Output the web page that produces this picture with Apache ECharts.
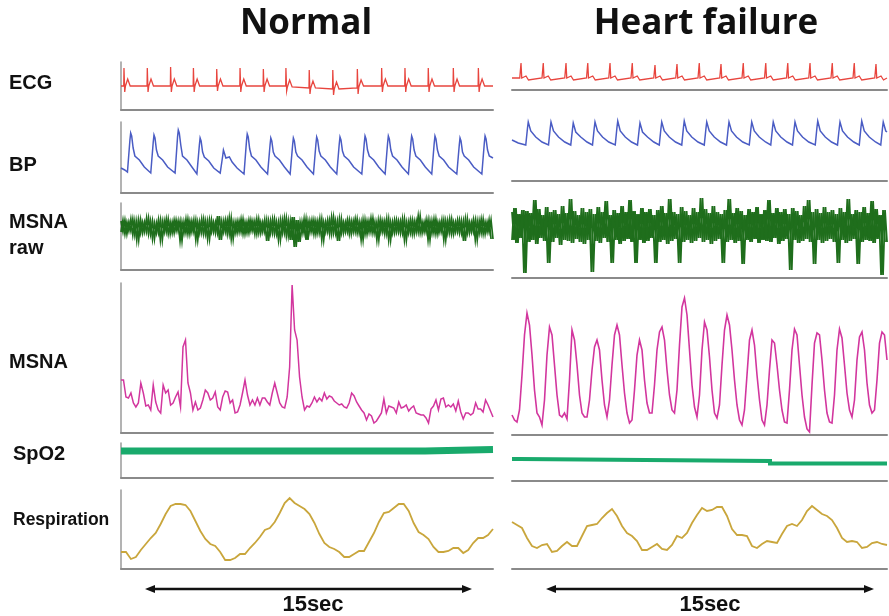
<!DOCTYPE html>
<html>
<head>
<meta charset="utf-8">
<script src="https://cdn.jsdelivr.net/npm/echarts@6/dist/echarts.min.js"></script>
<style>
html, body { margin: 0; padding: 0; background: #fff; }
#main { width: 889px; height: 616px; }
</style>
</head>
<body>
<div id="main"></div>
<script>

// ECG, normal: 16 beats
var ecgNormal = [
  [0,24],[0.11,24],[0.12,42],[0.15,18],[0.18,24],[0.27,31],[0.37,24],
  [1.05,24],[1.06,42],[1.09,18],[1.12,24],[1.21,31],[1.31,24],
  [1.99,24],[2.0,43],[2.03,18],[2.06,24],[2.15,31],[2.25,24],
  [2.91,24],[2.92,42],[2.95,18],[2.98,24],[3.07,31],[3.17,24],
  [3.85,24],[3.86,41],[3.89,19],[3.92,24],[4.01,31],[4.11,24],
  [4.79,24],[4.8,42],[4.83,18],[4.86,24],[4.95,31],[5.05,24],
  [5.73,24],[5.74,41],[5.77,18],[5.8,24],[5.89,31],[5.99,24],
  [6.64,24],[6.65,42],[6.68,19],[6.71,23],[6.8,30],[6.9,23],
  [7.58,22],[7.59,40],[7.62,16],[7.65,22],[7.74,29],[7.84,22],
  [8.53,21],[8.54,40],[8.57,15],[8.6,21],[8.69,28],[8.79,21],
  [9.52,22],[9.53,41],[9.56,16],[9.59,23],[9.68,30],[9.78,24],
  [10.5,24],[10.51,42],[10.54,18],[10.57,24],[10.66,31],[10.76,24],
  [11.44,24],[11.45,42],[11.48,18],[11.51,24],[11.6,31],[11.7,24],
  [12.38,24],[12.39,42],[12.42,18],[12.45,24],[12.54,31],[12.64,24],
  [13.39,24],[13.4,42],[13.43,18],[13.46,24],[13.55,31],[13.65,24],
  [14.4,24],[14.41,42],[14.44,18],[14.47,24],[14.56,31],[14.66,24],[15,24]
];

// ECG, heart failure: 17 beats
var ecgHF = [
  [0,12],[0.31,12],[0.35,13],[0.36,27],[0.39,12],[0.46,13],[0.56,14],[0.66,10],[0.74,12],
  [1.2,12],[1.24,13],[1.25,27],[1.28,12],[1.35,13],[1.45,14],[1.55,10],[1.63,12],
  [2.11,12],[2.15,13],[2.16,27],[2.19,12],[2.26,13],[2.36,14],[2.46,10],[2.54,12],
  [2.98,12],[3.02,13],[3.03,27],[3.06,12],[3.13,13],[3.23,14],[3.33,10],[3.41,12],
  [3.87,12],[3.91,13],[3.92,27],[3.95,12],[4.02,13],[4.12,14],[4.22,10],[4.3,12],
  [4.76,12],[4.8,13],[4.81,27],[4.84,12],[4.91,13],[5.01,14],[5.11,10],[5.19,12],
  [5.67,12],[5.71,13],[5.72,25],[5.75,12],[5.82,13],[5.92,14],[6.02,10],[6.1,12],
  [6.55,12],[6.59,13],[6.6,26],[6.63,12],[6.7,13],[6.8,14],[6.9,10],[6.98,12],
  [7.44,12],[7.48,13],[7.49,27],[7.52,12],[7.59,13],[7.69,14],[7.79,10],[7.87,12],
  [8.31,12],[8.35,13],[8.36,26],[8.39,12],[8.46,13],[8.56,14],[8.66,10],[8.74,12],
  [9.2,12],[9.24,13],[9.25,27],[9.28,12],[9.35,13],[9.45,14],[9.55,10],[9.63,12],
  [10.1,12],[10.14,13],[10.15,27],[10.18,12],[10.25,13],[10.35,14],[10.45,10],[10.53,12],
  [10.98,12],[11.02,13],[11.03,27],[11.06,12],[11.13,13],[11.23,14],[11.33,10],[11.41,12],
  [11.87,12],[11.91,13],[11.92,27],[11.95,12],[12.02,13],[12.12,14],[12.22,10],[12.3,12],
  [12.76,12],[12.8,13],[12.81,27],[12.84,12],[12.91,13],[13.01,14],[13.11,10],[13.19,12],
  [13.64,12],[13.68,13],[13.69,27],[13.72,12],[13.79,13],[13.89,14],[13.99,10],[14.07,12],
  [14.51,12],[14.55,13],[14.56,26],[14.59,12],[14.66,13],[14.76,14],[14.86,10],[14.94,12],[15,12]
];

// Blood pressure, normal
var bpNormal = [
  [0,25],[0.15,23],
  [0.26,21],[0.36,53],[0.39,60],[0.43,57],[0.49,45],[0.56,37],[0.63,39],[0.74,33],[0.94,26],
  [1.2,20],[1.3,51],[1.33,58],[1.37,55],[1.43,43],[1.5,37],[1.57,39],[1.68,33],[1.88,26],
  [2.18,20],[2.28,56],[2.31,63],[2.35,60],[2.41,48],[2.48,37],[2.55,39],[2.66,33],[2.86,26],
  [3.06,19],[3.16,48],[3.19,55],[3.23,52],[3.29,41],[3.36,36],[3.43,38],[3.54,32],[3.74,25],
  [4.0,20],[4.1,37],[4.13,43],[4.17,41],[4.23,35],[4.3,33],[4.37,36],[4.48,31],[4.68,25],
  [4.96,19],[5.06,52],[5.09,59],[5.13,56],[5.19,44],[5.26,37],[5.33,39],[5.44,33],[5.64,26],
  [5.91,19],[6.01,48],[6.04,55],[6.08,52],[6.14,41],[6.21,37],[6.28,39],[6.39,33],[6.59,26],
  [6.82,19],[6.92,48],[6.95,55],[6.99,52],[7.05,41],[7.12,37],[7.19,39],[7.3,33],[7.5,26],
  [7.76,19],[7.86,49],[7.89,56],[7.93,53],[7.99,42],[8.06,37],[8.13,39],[8.24,33],[8.44,26],
  [8.7,19],[8.8,49],[8.83,56],[8.87,53],[8.93,42],[9.0,37],[9.07,39],[9.18,33],[9.38,26],
  [9.71,19],[9.81,50],[9.84,57],[9.88,54],[9.94,43],[10.01,37],[10.08,39],[10.19,33],[10.39,26],
  [10.65,19],[10.75,50],[10.78,57],[10.82,54],[10.88,43],[10.95,37],[11.02,39],[11.13,33],[11.33,26],
  [11.59,19],[11.69,50],[11.72,57],[11.76,54],[11.82,43],[11.89,37],[11.96,39],[12.07,33],[12.27,26],
  [12.53,19],[12.63,50],[12.66,57],[12.7,54],[12.76,43],[12.83,37],[12.9,39],[13.01,33],[13.21,26],
  [13.54,19],[13.64,48],[13.67,55],[13.71,52],[13.77,41],[13.84,37],[13.91,39],[14.02,33],[14.22,26],
  [14.55,19],[14.65,50],[14.68,57],[14.72,54],[14.78,43],[14.85,37],[14.92,39],[15,35]
];

// Blood pressure, heart failure
var bpHF = [
  [0,41],[0.25,38],
  [0.55,36],[0.62,53],[0.65,59],[0.69,57],[0.75,50],[0.83,48],[0.95,44],[1.2,39],
  [1.46,36],[1.53,53],[1.56,59],[1.6,57],[1.66,50],[1.74,48],[1.86,44],[2.11,39],
  [2.35,36],[2.42,52],[2.45,58],[2.49,56],[2.55,49],[2.63,47],[2.75,44],[3.0,39],
  [3.22,36],[3.29,53],[3.32,59],[3.36,57],[3.42,50],[3.5,48],[3.62,44],[3.87,39],
  [4.13,36],[4.2,54],[4.23,60],[4.27,58],[4.33,50],[4.41,48],[4.53,44],[4.78,39],
  [5.02,36],[5.09,52],[5.12,58],[5.16,56],[5.22,49],[5.3,47],[5.42,44],[5.67,39],
  [5.89,36],[5.96,53],[5.99,59],[6.03,57],[6.09,50],[6.17,48],[6.29,44],[6.54,39],
  [6.79,36],[6.86,54],[6.89,60],[6.93,58],[6.99,50],[7.07,48],[7.19,44],[7.44,39],
  [7.69,36],[7.76,53],[7.79,59],[7.83,57],[7.89,50],[7.97,48],[8.09,44],[8.34,39],
  [8.58,36],[8.65,53],[8.68,59],[8.72,57],[8.78,50],[8.86,48],[8.98,44],[9.23,39],
  [9.49,36],[9.56,53],[9.59,59],[9.63,57],[9.69,50],[9.77,48],[9.89,44],[10.14,39],
  [10.35,36],[10.42,53],[10.45,59],[10.49,57],[10.55,50],[10.63,48],[10.75,44],[11.0,39],
  [11.22,36],[11.29,53],[11.32,59],[11.36,57],[11.42,50],[11.5,48],[11.62,44],[11.87,39],
  [12.13,36],[12.2,54],[12.23,60],[12.27,58],[12.33,50],[12.41,48],[12.53,44],[12.78,39],
  [13.02,36],[13.09,53],[13.12,59],[13.16,57],[13.22,50],[13.3,48],[13.42,44],[13.67,39],
  [13.89,36],[13.96,54],[13.99,60],[14.03,58],[14.09,50],[14.17,48],[14.29,44],[14.54,39],
  [14.75,36],[14.82,53],[14.85,59],[14.89,57],[14.95,50],[15,49]
];

// MSNA raw neurogram (evenly sampled, alternating crest / trough)
var rawNormal = [
  49,38,50,36,48,39,51,35,49,30,50,37,48,38,52,36,49,31,47,37,
  50,30,49,38,51,36,48,37,50,39,49,29,48,37,51,36,49,38,50,30,
  48,37,51,36,49,31,50,38,48,37,54,30,49,38,50,36,52,31,48,37,
  49,38,51,36,48,37,50,39,49,36,51,37,48,38,50,29,49,37,51,36,
  48,30,50,37,52,34,49,30,53,23,50,28,48,37,51,30,49,38,50,36,
  49,37,51,30,48,38,50,36,53,37,49,29,51,37,48,38,50,36,49,38,
  51,37,48,30,50,36,49,38,52,37,48,30,50,38,49,36,51,30,48,37,
  50,38,49,37,51,30,48,37,50,36,49,38,54,37,48,38,50,30,49,37,
  51,36,48,38,50,30,49,37,51,36,48,38,50,37,49,29,51,37,48,38,
  50,30,49,37,51,36,48,38,50,31
];
var rawHF = [
  66,38,70,35,64,40,68,5,67,36,65,38,78,34,69,40,63,37,71,15,
  66,36,68,40,64,33,72,38,65,37,79,35,67,39,63,36,70,34,66,38,
  69,6,64,37,71,35,66,40,77,36,63,15,68,38,65,34,72,37,66,39,
  78,36,67,15,64,38,70,35,66,37,69,40,63,15,68,36,72,38,65,34,
  79,37,66,39,64,15,71,36,67,38,63,35,70,37,66,40,80,36,69,38,
  65,34,72,37,66,39,64,15,68,36,79,38,65,35,70,37,67,14,63,38,
  69,36,66,39,71,35,64,38,68,37,78,36,65,40,70,34,66,37,69,39,
  64,8,70,38,67,35,63,37,72,39,78,36,66,14,69,38,65,35,71,37,
  66,39,68,36,64,15,70,38,66,35,79,37,64,39,68,14,66,36,71,38,
  65,37,77,35,69,39,63,3,68,36
];

// integrated MSNA, one sample per 0.1 s
var msnaNormal = [
  53,53,36,35,40,30,26,30,50,40,27,28,23,48,31,23,20,48,40,43,
  28,30,36,41,26,86,93,50,40,23,31,23,25,33,43,40,33,35,41,26,
  23,36,42,41,30,33,20,21,28,40,53,38,28,33,28,35,28,35,35,31,
  28,40,50,40,30,26,25,36,66,148,103,93,56,36,23,27,26,30,36,31,
  35,32,40,34,37,36,32,30,28,29,26,25,30,40,37,31,27,23,20,13,
  19,17,10,12,16,20,34,20,27,26,25,20,31,25,26,28,22,25,27,20,
  19,18,18,15,10,24,27,33,23,34,35,26,28,26,29,22,32,21,14,20,
  20,18,20,30,24,24,21,33,28,22,16
];
var msnaHF = [
  20,15,13,25,60,100,122,110,80,45,22,18,10,35,80,108,100,70,40,20,
  18,22,16,55,105,95,70,40,22,18,18,35,65,88,95,85,55,30,18,35,
  70,100,110,100,70,42,22,12,15,45,80,95,85,55,32,22,22,50,85,103,
  108,95,65,40,25,22,45,90,128,137,120,85,50,28,18,40,85,113,105,78,
  45,22,17,30,70,105,120,110,85,55,30,15,10,25,60,95,105,90,60,35,
  15,10,30,65,95,92,70,45,25,13,12,45,85,106,100,70,40,18,6,3,
  50,92,102,100,75,45,22,13,12,40,85,106,97,70,42,25,18,35,75,98,
  103,85,52,30,22,25,55,92,103,100,75
];

// SpO2 level
var spo2Normal = [[0,27],[12.26,27],[12.26,28.5],[15,28.5]];
var spo2HF = [[0,22],[0.32,22],[0.32,20],[10.32,20],[10.32,17.5],[15,17.5]];

// respiration, one sample per 0.2 s
var respNormal = [
  17,17,10,12,19,25,31,36,45,55,63,65,65,64,58,48,38,30,25,23,
  17,9,9,11,15,15,21,26,32,39,41,47,56,66,71,66,63,60,55,46,
  35,26,22,20,17,12,12,15,18,18,27,36,47,56,57,61,65,65,58,46,
  37,34,30,22,17,17,18,21,21,16,19,26,31,31,34,40
];
var respHF = [
  47,44,41,31,23,21,24,25,17,18,23,27,23,23,33,43,44,45,51,56,
  60,53,43,36,33,28,19,19,22,25,20,19,24,33,31,36,46,54,61,58,
  59,62,62,53,40,34,34,33,23,21,25,28,27,26,35,43,45,43,49,58,
  63,59,55,53,49,41,31,27,28,27,21,22,26,27,25,24
];

var rowLabels = ['ECG', 'BP', 'MSNA', 'raw', 'MSNA', 'SpO2', 'Respiration'];
var colTitles = ['Normal', 'Heart failure'];
var spanLabel = '15sec';

// ---- layout ----
var FONT = 'Liberation Sans, Arial, sans-serif';
var TITLE_FONT = 'Open Sans, Liberation Sans, sans-serif';
var cols = [{ left: 121, width: 372, axis: true }, { left: 512, width: 375, axis: false }];

var panels = [
  { c: 0, top: 62,  h: 48,  data: ecgNormal,  color: '#e8453e', w: 1.3 },
  { c: 1, top: 42,  h: 48,  data: ecgHF,      color: '#e8453e', w: 1.3 },
  { c: 0, top: 122, h: 71,  data: bpNormal,   color: '#4a5cc4', w: 1.5 },
  { c: 1, top: 110, h: 71,  data: bpHF,       color: '#4a5cc4', w: 1.5 },
  { c: 0, top: 203, h: 67,  data: rawNormal,  color: '#1f6e1c', w: 1.7, cat: true, dense: true },
  { c: 1, top: 195, h: 83,  data: rawHF,      color: '#1f6e1c', w: 1.8, cat: true, dense: true },
  { c: 0, top: 283, h: 150, data: msnaNormal, color: '#d2369e', w: 1.5, cat: true },
  { c: 1, top: 280, h: 155, data: msnaHF,     color: '#d2369e', w: 1.6, cat: true },
  { c: 0, top: 443, h: 35,  data: spo2Normal, color: '#19aa6c', w: 7 },
  { c: 1, top: 446, h: 35,  data: spo2HF,     color: '#19aa6c', w: 4 },
  { c: 0, top: 490, h: 79,  data: respNormal, color: '#c9a63c', w: 1.8, cat: true },
  { c: 1, top: 490, h: 79,  data: respHF,     color: '#c9a63c', w: 1.8, cat: true }
];

var grid = [], xAxis = [], yAxis = [], series = [];
panels.forEach(function (p, i) {
  var col = cols[p.c];
  grid.push({ left: col.left, top: p.top, width: col.width, height: p.h });
  var xa = {
    gridIndex: i,
    axisLine: { show: true, onZero: false, lineStyle: { color: '#8a8a8a', width: 2 } },
    axisTick: { show: false }, axisLabel: { show: false }, splitLine: { show: false }
  };
  if (p.cat) {
    xa.type = 'category';
    xa.boundaryGap = false;
    xa.data = p.data.map(function (v, k) { return String(k); });
  } else {
    xa.type = 'value';
    xa.min = 0;
    xa.max = 15;
  }
  xAxis.push(xa);
  yAxis.push({
    gridIndex: i, type: 'value', min: 0, max: p.h,
    axisLine: { show: col.axis, onZero: false, lineStyle: { color: '#9a9a9a', width: 1.5 } },
    axisTick: { show: false }, axisLabel: { show: false }, splitLine: { show: false }
  });
  var line = { color: p.color, width: p.w, cap: 'butt', join: 'miter' };
  series.push({
    type: 'line', xAxisIndex: i, yAxisIndex: i, data: p.data,
    showSymbol: false, silent: true, lineStyle: line
  });
  // neurogram: the same samples drawn a second time one step over, so crests and
  // troughs interleave and the noise reads as a solid band
  if (p.dense) {
    series.push({
      type: 'line', xAxisIndex: i, yAxisIndex: i, data: p.data.slice(1),
      showSymbol: false, silent: true, lineStyle: line
    });
  }
});

function txt(x, y, s, size, align, font) {
  return {
    type: 'text', x: x, y: y, silent: true,
    style: { text: s, font: 'bold ' + size + 'px ' + (font || FONT), fill: '#111',
             textAlign: align || 'left', textVerticalAlign: 'middle' }
  };
}
function arrow(x1, x2, y) {
  return [
    { type: 'line', silent: true, shape: { x1: x1 + 6, y1: y, x2: x2 - 6, y2: y },
      style: { stroke: '#111', lineWidth: 2.5 } },
    { type: 'polygon', silent: true, shape: { points: [[x1, y], [x1 + 10, y - 4], [x1 + 10, y + 4]] },
      style: { fill: '#111' } },
    { type: 'polygon', silent: true, shape: { points: [[x2, y], [x2 - 10, y - 4], [x2 - 10, y + 4]] },
      style: { fill: '#111' } }
  ];
}

var graphic = [
  txt(306, 24, colTitles[0], 35, 'center', TITLE_FONT),
  txt(706, 24, colTitles[1], 35, 'center', TITLE_FONT),
  txt(9, 83, rowLabels[0], 20),
  txt(9, 165, rowLabels[1], 20),
  txt(9, 222, rowLabels[2], 20),
  txt(9, 248, rowLabels[3], 20),
  txt(9, 362, rowLabels[4], 20),
  txt(13, 454, rowLabels[5], 20),
  txt(13, 520, rowLabels[6], 17.5),
  txt(313, 605, spanLabel, 22, 'center'),
  txt(710, 605, spanLabel, 22, 'center')
].concat(arrow(145, 472, 589), arrow(546, 874, 589));

var myChart = echarts.init(document.getElementById('main'));
myChart.setOption({
  animation: false,
  backgroundColor: '#fff',
  grid: grid,
  xAxis: xAxis,
  yAxis: yAxis,
  series: series,
  graphic: graphic
});
</script>
</body>
</html>
